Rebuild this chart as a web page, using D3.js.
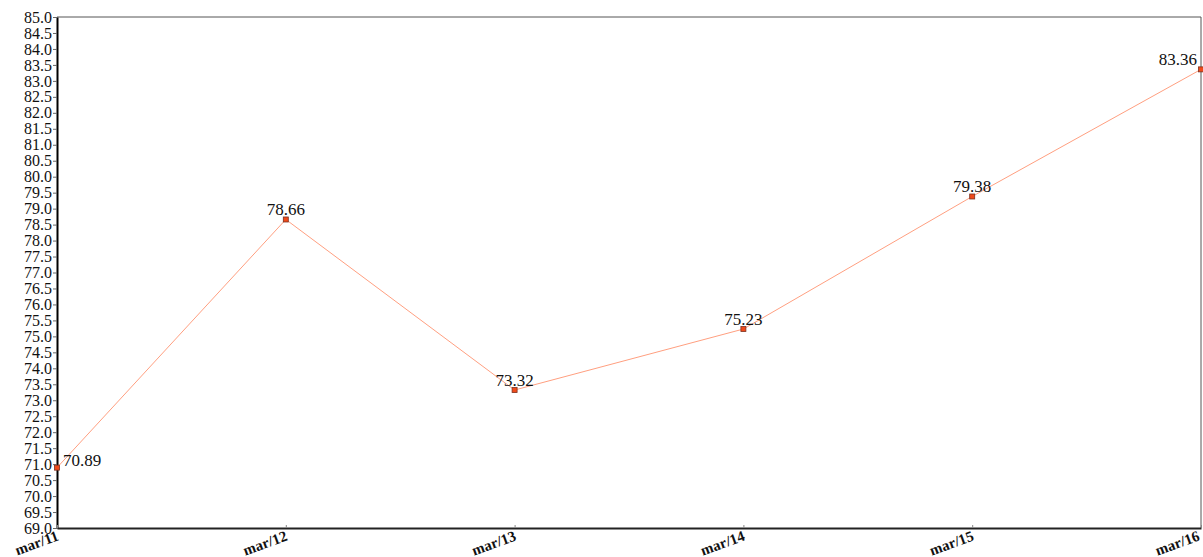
<!DOCTYPE html>
<html>
<head>
<meta charset="utf-8">
<script src="https://cdn.jsdelivr.net/npm/d3@7"></script>
<style>
  body { margin: 0; background: #fff; }
  svg { display: block; }
  text { font-family: "Liberation Serif", "Times New Roman", serif; }
</style>
</head>
<body>
<svg></svg>
<script>
// chart data
let days = ['mar/11', 'mar/12', 'mar/13', 'mar/14', 'mar/15', 'mar/16'];
let values = [70.89, 78.66, 73.32, 75.23, 79.38, 83.36];
let yTicks = d3.range(69, 85.001, 0.5);

let width = 1203;
let height = 557;
let margin = {top: 17, right: 2, bottom: 29, left: 57};

let svg = d3.select('svg')
  .attr('width', width)
  .attr('height', height);

let x = d3.scalePoint()
  .domain(days)
  .range([margin.left, width - margin.right]);

let y = d3.scaleLinear()
  .domain([69, 85])
  .range([height - margin.bottom, margin.top]);

// frame: thin grey top/right
svg.append('path')
  .attr('d', `M${margin.left},${margin.top}H${width - margin.right}V${height - margin.bottom}`)
  .attr('fill', 'none')
  .attr('stroke', '#555')
  .attr('stroke-width', 1);

// y axis
let yAxis = svg.append('g')
  .attr('transform', `translate(${margin.left},0)`)
  .call(d3.axisLeft(y).tickValues(yTicks).tickFormat(d3.format('.1f')).tickSize(4).tickSizeOuter(0));
yAxis.select('.domain').attr('stroke', '#000').attr('stroke-width', 2);
yAxis.selectAll('.tick line').attr('stroke', '#666');
yAxis.selectAll('.tick text')
  .attr('x', -5)
  .style('font-size', '16px')
  .attr('fill', '#111');

// x axis
let xAxis = svg.append('g')
  .attr('transform', `translate(0,${height - margin.bottom})`)
  .call(d3.axisBottom(x).tickSize(-3).tickSizeOuter(0));
xAxis.select('.domain').attr('stroke', '#222').attr('stroke-width', 2);
xAxis.selectAll('.tick line').attr('stroke', '#888');
xAxis.selectAll('.tick text')
  .attr('text-anchor', 'end')
  .attr('dy', null)
  .attr('y', 0)
  .attr('transform', (d, i) => `translate(${i === days.length - 1 ? -1 : 2},12) rotate(-20)`)
  .style('font-size', '15px')
  .style('font-weight', 'bold')
  .attr('fill', '#111');

let points = days.map((d, i) => ({day: d, value: values[i]}));

// line
let line = d3.line()
  .x(d => x(d.day))
  .y(d => y(d.value));

svg.append('path')
  .datum(points)
  .attr('d', line)
  .attr('fill', 'none')
  .attr('stroke', '#ff9f80')
  .attr('stroke-width', 1);

// markers
svg.selectAll('rect.marker')
  .data(points)
  .enter()
  .append('rect')
    .classed('marker', true)
    .attr('x', d => x(d.day) - 2.5)
    .attr('y', d => y(d.value) - 2.5)
    .attr('width', 5)
    .attr('height', 5)
    .attr('fill', '#f04a1a')
    .attr('stroke', '#7a3020')
    .attr('stroke-width', 0.8);

// value labels
let last = points.length - 1;
svg.selectAll('text.label')
  .data(points)
  .enter()
  .append('text')
    .classed('label', true)
    .attr('x', (d, i) => x(d.day) + (i === 0 ? 6 : i === last ? -4 : 0))
    .attr('y', (d, i) => y(d.value) - (i === 0 ? 2 : 4))
    .attr('text-anchor', (d, i) => i === 0 ? 'start' : i === last ? 'end' : 'middle')
    .style('font-size', '17px')
    .attr('fill', '#111')
    .text(d => d.value.toFixed(2));
</script>
</body>
</html>
